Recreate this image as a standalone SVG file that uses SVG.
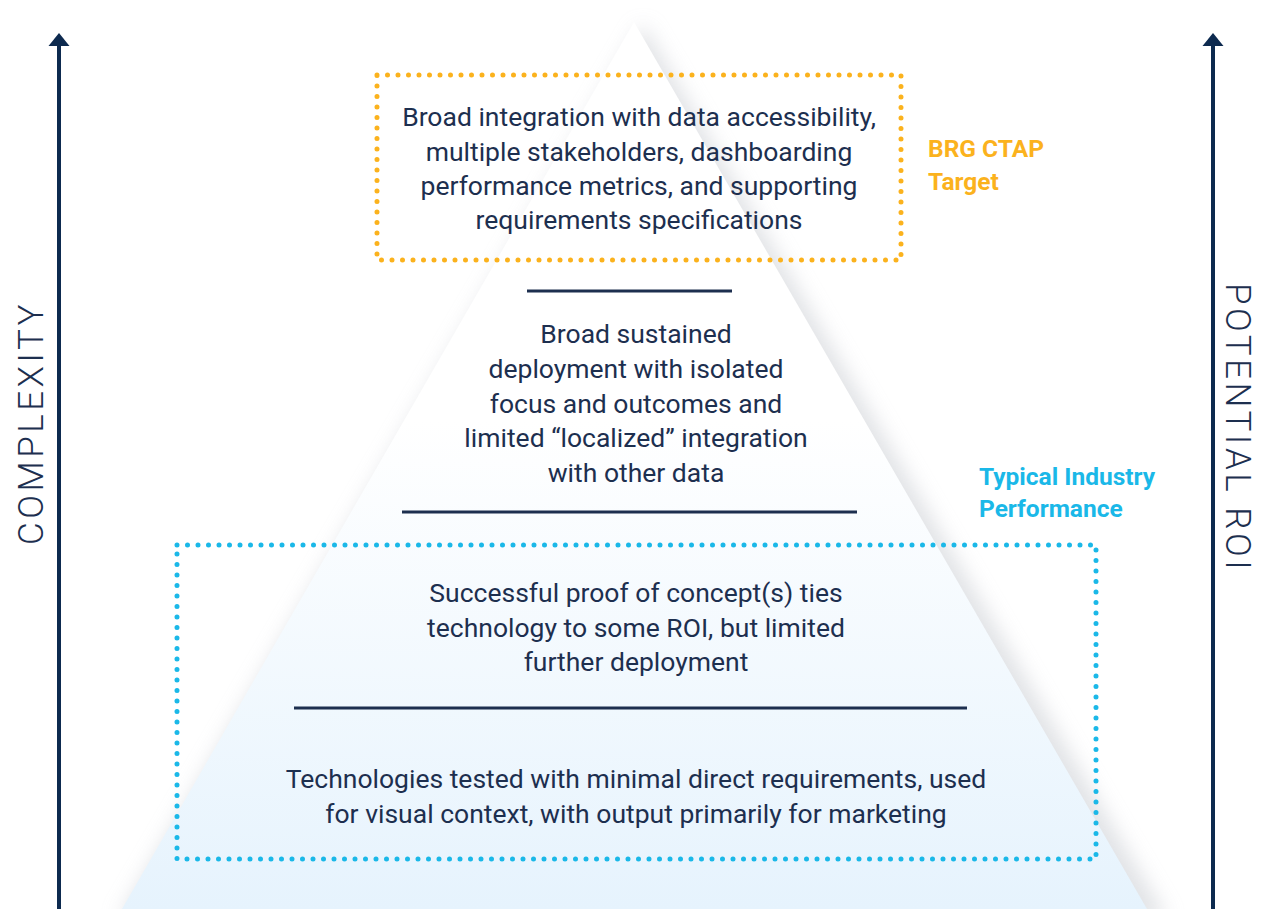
<svg xmlns="http://www.w3.org/2000/svg" width="1274" height="909" viewBox="0 0 1274 909">
<style>
.t{font-family:Roboto,"Liberation Sans",sans-serif;font-size:26.5px;fill:#1d2f4f;text-anchor:middle}
.ax{font-family:Roboto,"Liberation Sans",sans-serif;font-size:35px;font-weight:300;fill:#1d2f4f;text-anchor:middle;letter-spacing:3.5px}
.sep{stroke:#1d2f4f;stroke-width:3}
.lbl{font-family:Roboto,"Liberation Sans",sans-serif;font-size:24.5px;font-weight:bold}
.arr{fill:#0d2a4f}
</style>
<defs>
<linearGradient id="pg" x1="0" y1="0" x2="0" y2="1">
<stop offset="0" stop-color="#ffffff"/>
<stop offset="0.45" stop-color="#ffffff"/>
<stop offset="1" stop-color="#e6f3fd"/>
</linearGradient>
<filter id="sh" x="-20%" y="-20%" width="140%" height="140%">
<feGaussianBlur stdDeviation="10"/>
</filter>
</defs>
<rect width="1274" height="909" fill="#ffffff"/>
<g id="pyramid">
<path d="M635,24 L1160,920 L110,920 Z" fill="#c9ccd2" opacity="0.55" filter="url(#sh)" transform="translate(8,0)"/>
<path d="M634,22 L1147,909 L122,909 Z" fill="url(#pg)"/>
</g>
<g id="connectors">
<line x1="59" y1="909" x2="59" y2="44" stroke="#0d2a4f" stroke-width="4"/>
<path class="arr" d="M59,33 L69.5,46 L48.5,46 Z"/>
<line x1="1213" y1="909" x2="1213" y2="44" stroke="#0d2a4f" stroke-width="4"/>
<path class="arr" d="M1213,33 L1223.5,46 L1202.5,46 Z"/>
<line class="sep" x1="527" y1="291" x2="732" y2="291"/>
<line class="sep" x1="402" y1="512" x2="857" y2="512"/>
<line class="sep" x1="294" y1="708" x2="967" y2="708"/>
</g>
<g id="axis-complexity"><text class="ax" transform="translate(43,423) rotate(-90)">COMPLEXITY</text></g>
<g id="axis-roi"><text class="ax" transform="translate(1226,428) rotate(90)">POTENTIAL ROI</text></g>
<g id="target-box">
<rect x="377" y="75" width="524" height="185" fill="none" stroke="#fbb21d" stroke-width="5" stroke-dasharray="0 10.5" stroke-linecap="round"/>
<text class="t" x="639" y="126">Broad integration with data accessibility,</text>
<text class="t" x="639" y="161">multiple stakeholders, dashboarding</text>
<text class="t" x="639" y="195">performance metrics, and supporting</text>
<text class="t" x="639" y="229">requirements specifications</text>
</g>
<g id="label-target">
<text class="lbl" fill="#fbb21d" x="928" y="157">BRG CTAP</text>
<text class="lbl" fill="#fbb21d" x="928" y="190">Target</text>
</g>
<g id="tier-2">
<text class="t" x="636" y="343">Broad sustained</text>
<text class="t" x="636" y="378">deployment with isolated</text>
<text class="t" x="636" y="413">focus and outcomes and</text>
<text class="t" x="636" y="447">limited “localized” integration</text>
<text class="t" x="636" y="482">with other data</text>
</g>
<g id="label-typical">
<text class="lbl" fill="#1ab8e8" x="979" y="485">Typical Industry</text>
<text class="lbl" fill="#1ab8e8" x="979" y="517">Performance</text>
</g>
<g id="typical-box">
<rect x="177" y="545" width="919" height="314" fill="none" stroke="#1ab8e8" stroke-width="5" stroke-dasharray="0 10.5" stroke-linecap="round"/>
</g>
<g id="tier-3">
<text class="t" x="636" y="602">Successful proof of concept(s) ties</text>
<text class="t" x="636" y="637">technology to some ROI, but limited</text>
<text class="t" x="636" y="671">further deployment</text>
</g>
<g id="tier-4">
<text class="t" x="636" y="788">Technologies tested with minimal direct requirements, used</text>
<text class="t" x="636" y="823">for visual context, with output primarily for marketing</text>
</g>
</svg>
